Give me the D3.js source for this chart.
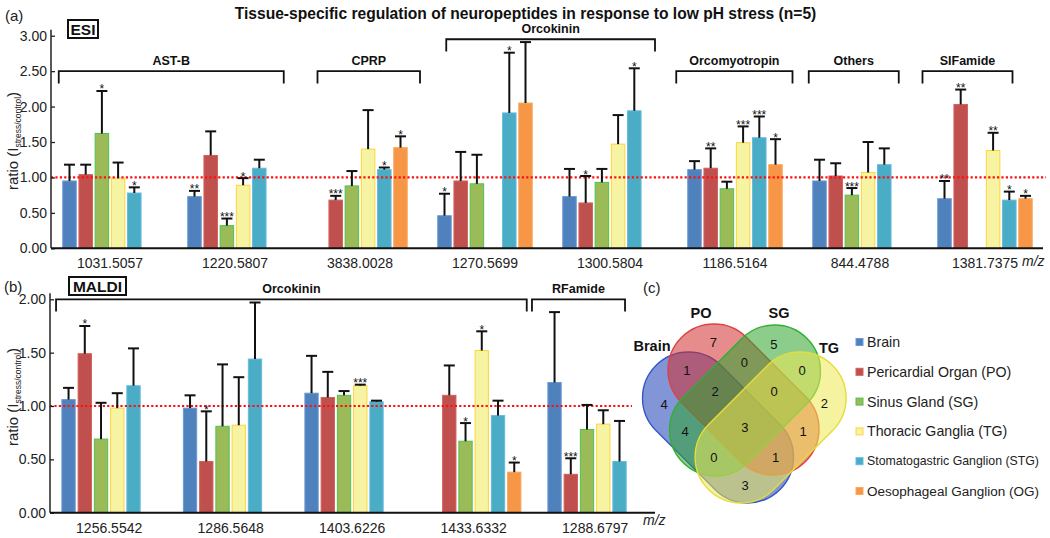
<!DOCTYPE html>
<html>
<head>
<meta charset="utf-8">
<script src="https://cdn.jsdelivr.net/npm/d3@7/dist/d3.min.js"></script>
<style>
  html,body{margin:0;padding:0;background:#fff;}
  svg{display:block;}
  text{font-family:"Liberation Sans",Arial,Helvetica,sans-serif;}
</style>
</head>
<body>
<svg id="chart" width="1050" height="538"></svg>
<script>
// ================= DATA =================
const tissues = ["Brain","Pericardial Organ (PO)","Sinus Gland (SG)","Thoracic Ganglia (TG)","Stomatogastric Ganglion (STG)","Oesophageal Ganglion (OG)"];

// ---- (a) ESI ----
const esiMz = ["1031.5057","1220.5807","3838.0028","1270.5699","1300.5804","1186.5164","844.4788","1381.7375"];
// rows = tissues, columns = m/z
const esiMean = [
  [0.95, 0.73, null, 0.46, 0.73, 1.11, 0.95, 0.70],
  [1.04, 1.31, 0.68, 0.95, 0.64, 1.13, 1.02, 2.03],
  [1.62, 0.32, 0.88, 0.91, 0.93, 0.84, 0.75, null],
  [0.99, 0.89, 1.40, null, 1.47, 1.49, 1.07, 1.38],
  [0.78, 1.13, 1.11, 1.91, 1.94, 1.56, 1.18, 0.68],
  [null, null, 1.42, 2.05, null, 1.18, null, 0.70]
];
const esiErr = [
  [0.23, 0.08, null, 0.31, 0.39, 0.12, 0.30, 0.25],
  [0.14, 0.34, 0.06, 0.41, 0.38, 0.28, 0.18, 0.21],
  [0.60, 0.10, 0.21, 0.41, 0.19, 0.10, 0.10, null],
  [0.22, 0.10, 0.55, null, 0.41, 0.23, 0.43, 0.25],
  [0.08, 0.12, 0.03, 0.85, 0.60, 0.30, 0.23, 0.12],
  [null, null, 0.16, 0.86, null, 0.36, null, 0.04]
];
const esiSig = [
  ["",  "**", "",   "*", "",  "",    "",    "**"],
  ["",  "",   "***","",  "*", "**",  "",    "**"],
  ["*", "***","",   "",  "",  "",    "***", ""],
  ["",  "*",  "",   "",  "",  "***", "",    "**"],
  ["*", "",   "*",  "*", "*", "***", "",    "*"],
  ["",  "",   "*",  "",  "",  "*",   "",    "*"]
];
const esiFamilies = ["AST-B","CPRP","Orcokinin","Orcomyotropin","Others","SIFamide"];

// ---- (b) MALDI ----
const maldiMz = ["1256.5542","1286.5648","1403.6226","1433.6332","1288.6797"];
const maldiMean = [
  [1.06, 0.98, 1.12, null, 1.22],
  [1.49, 0.48, 1.08, 1.10, 0.36],
  [0.69, 0.81, 1.10, 0.67, 0.78],
  [0.98, 0.82, 1.19, 1.52, 0.83],
  [1.19, 1.44, 1.04, 0.91, 0.48],
  [null, null, null, 0.38, null]
];
const maldiErr = [
  [0.11, 0.12, 0.35, null, 0.66],
  [0.26, 0.47, 0.24, 0.28, 0.15],
  [0.34, 0.58, 0.04, 0.17, 0.23],
  [0.14, 0.45, 0.01, 0.18, 0.13],
  [0.35, 0.53, 0.01, 0.14, 0.38],
  [null, null, null, 0.09, null]
];
const maldiSig = [
  ["",  "",  "",    "",  ""],
  ["*", "*", "",    "",  "***"],
  ["",  "",  "",    "*", ""],
  ["",  "",  "***", "*", ""],
  ["",  "",  "",    "",  ""],
  ["",  "",  "",    "*", ""]
];
const maldiFamilies = ["Orcokinin","RFamide"];

const yTicksA = [0, 0.5, 1, 1.5, 2, 2.5, 3];
const yTicksB = [0, 0.5, 1, 1.5, 2];
const referenceRatio = 1;

// ---- (c) Venn ----
const vennSets = ["Brain","PO","SG","TG"];
const vennRegionSets = [[0],[1],[2],[3],[0,1],[0,2],[0,3],[1,2],[1,3],[2,3],[0,1,2],[0,1,3],[0,2,3],[1,2,3],[0,1,2,3]];
const vennCounts     = [4,  7,  5,  2,  1,    4,    3,    0,    1,    0,    2,      1,      0,      0,      3];

// ================= LAYOUT / STYLE =================
const barFill   = ["#4F81BD","#C0504D","#9BBB59","#F6F3A2","#4BACC6","#F79646"];
const barStroke = ["#6A9AD6","#D4605C","#4FC24F","#FFD43B","#62BCE0","#F9A95E"];
const vennFill   = ["#1C40B6","#D12E2E","#2EA42E","#EDE852"];
const vennStroke = ["#3557C8","#D94444","#33AE33","#E6DC3A"];

// bracket spans in group-index units, level in data units
const esiSpan  = [[0.09,1.89],[2.16,2.98],[3.19,4.86],[5.03,5.96],[6.09,6.81],[7.0,7.72]];
const esiLevel = [2.5, 2.5, 2.95, 2.5, 2.5, 2.5];
const maldiSpan  = [[0.063,3.937],[3.98,4.746]];
const maldiLevel = [2.0, 2.0];

const svg = d3.select("#chart");

// ================= PANEL DRAWER =================
function drawPanel(p){
  const g = svg.append("g");
  const {x0, x1, y} = p;
  const bw = x1.bandwidth();

  // bars
  p.mean.forEach((row, s) => {
    row.forEach((v, gi) => {
      if (v == null) return;
      const bx = x0(p.groups[gi]) + x1(s);
      g.append("rect")
        .attr("x", bx).attr("y", y(v))
        .attr("width", bw).attr("height", y(0) - y(v))
        .attr("fill", barFill[s]).attr("stroke", barStroke[s]).attr("stroke-width", 1);
    });
  });

  // reference line
  g.append("line")
    .attr("x1", p.axisLeft).attr("x2", p.refRight)
    .attr("y1", y(referenceRatio)).attr("y2", y(referenceRatio))
    .attr("stroke", "#FF1010").attr("stroke-width", 2.2).attr("stroke-dasharray", "2.2,2.2");

  // error bars + stars
  p.mean.forEach((row, s) => {
    row.forEach((v, gi) => {
      if (v == null) return;
      const cx = x0(p.groups[gi]) + x1(s) + bw / 2;
      const top = y(v + p.err[s][gi]);
      g.append("line").attr("x1", cx).attr("x2", cx).attr("y1", y(v)).attr("y2", top)
        .attr("stroke", "#111").attr("stroke-width", 2);
      g.append("line").attr("x1", cx - 5.5).attr("x2", cx + 5.5).attr("y1", top).attr("y2", top)
        .attr("stroke", "#111").attr("stroke-width", 2);
      const st = p.sig[s][gi];
      if (st) {
        g.append("text").attr("x", cx).attr("y", top + 2.5)
          .attr("text-anchor", "middle").attr("font-size", 12).attr("fill", "#111")
          .text(st);
      }
    });
  });

  // y axis
  const ya = d3.axisLeft(y).tickValues(p.yTicks).tickFormat(d3.format(".2f"))
    .tickSizeInner(-4).tickSizeOuter(0).tickPadding(4);
  const yg = g.append("g").attr("transform", `translate(${p.axisLeft},0)`).call(ya);
  yg.select(".domain").remove();
  yg.selectAll("line").attr("stroke", "#222").attr("stroke-width", 1.3);
  yg.selectAll("text").attr("font-size", 14).attr("fill", "#222")
    .style("font-family", '"Liberation Sans",Arial,sans-serif');
  g.append("line").attr("x1", p.axisLeft).attr("x2", p.axisLeft)
    .attr("y1", y(0)).attr("y2", y(p.yTicks[p.yTicks.length - 1]) - 6)
    .attr("stroke", "#222").attr("stroke-width", 1.5);

  // x axis
  g.append("line").attr("x1", p.axisLeft).attr("x2", p.axisRight)
    .attr("y1", y(0)).attr("y2", y(0)).attr("stroke", "#111").attr("stroke-width", 2);
  const xa = d3.axisBottom(x0).tickSize(0).tickPadding(p.xLabelPad);
  const xg = g.append("g").attr("transform", `translate(0,${y(0)})`).call(xa);
  xg.select(".domain").remove();
  xg.selectAll("text").attr("font-size", 14).attr("fill", "#222")
    .style("font-family", '"Liberation Sans",Arial,sans-serif');

  g.append("text").attr("x", p.mzX).attr("y", p.mzY).attr("font-size", 14)
    .attr("font-style", "italic").attr("fill", "#222").text("m/z");

  // y label
  const yl = g.append("text")
    .attr("transform", `translate(${p.yLabelX},${p.yLabelY}) rotate(-90)`)
    .attr("text-anchor", "middle").attr("font-size", 15).attr("fill", "#222");
  yl.append("tspan").text("ratio (I");
  yl.append("tspan").attr("font-size", 8.5).attr("dy", 3).text("stress/control");
  yl.append("tspan").attr("dy", -3).text(")");

  // brackets
  const xu = u => x0.range()[0] + u * x0.step();
  p.families.forEach((f, i) => {
    const xa1 = xu(p.span[i][0]), xb1 = xu(p.span[i][1]);
    const yt = y(p.level[i]), yb = yt + 12.3;
    g.append("path")
      .attr("d", `M${xa1},${yb}V${yt}H${xb1}V${yb}`)
      .attr("fill", "none").attr("stroke", "#111").attr("stroke-width", 1.8);
    g.append("text").attr("x", (xa1 + xb1) / 2).attr("y", yt - 6)
      .attr("text-anchor", "middle").attr("font-size", 12.5).attr("font-weight", "bold")
      .attr("fill", "#111").text(f);
  });
}

// ================= PANEL (a) =================
const yA = d3.scaleLinear().domain([0, 3]).range([248.3, 35.7]);
const x0A = d3.scaleBand().domain(esiMz).range([47.5, 1047.5]).paddingInner(0).paddingOuter(0);
const x1A = d3.scaleBand().domain(d3.range(tissues.length)).range([0, x0A.bandwidth()])
  .paddingInner(0.167).paddingOuter(0.941);
drawPanel({
  groups: esiMz, mean: esiMean, err: esiErr, sig: esiSig,
  x0: x0A, x1: x1A, y: yA, yTicks: yTicksA,
  axisLeft: 51, axisRight: 1043, refRight: 1046,
  xLabelPad: 9.5, mzX: 1022, mzY: 266,
  yLabelX: 18, yLabelY: 141,
  families: esiFamilies, span: esiSpan, level: esiLevel
});

// ================= PANEL (b) =================
const yB = d3.scaleLinear().domain([0, 2]).range([512.7, 299.3]);
const x0B = d3.scaleBand().domain(maldiMz).range([48.4, 655.9]).paddingInner(0).paddingOuter(0);
const x1B = d3.scaleBand().domain(d3.range(tissues.length)).range([0, x0B.bandwidth()])
  .paddingInner(0.18).paddingOuter(0.83);
drawPanel({
  groups: maldiMz, mean: maldiMean, err: maldiErr, sig: maldiSig,
  x0: x0B, x1: x1B, y: yB, yTicks: yTicksB,
  axisLeft: 50, axisRight: 655, refRight: 632,
  xLabelPad: 10, mzX: 643, mzY: 525,
  yLabelX: 18, yLabelY: 397,
  families: maldiFamilies, span: maldiSpan, level: maldiLevel
});

// ================= TITLES =================
svg.append("text").attr("x", 525.5).attr("y", 18.5).attr("text-anchor", "middle")
  .attr("font-size", 15.6).attr("font-weight", "bold").attr("fill", "#111")
  .text("Tissue-specific regulation of neuropeptides in response to low pH stress (n=5)");
[["(a)", 5, 21], ["(b)", 4, 292], ["(c)", 643, 293]].forEach(([t, x, y]) => {
  svg.append("text").attr("x", x).attr("y", y).attr("font-size", 15).attr("fill", "#222").text(t);
});
[["ESI", 68, 20, 30, 18], ["MALDI", 69, 277, 57, 18]].forEach(([t, x, y, w, h]) => {
  svg.append("rect").attr("x", x).attr("y", y).attr("width", w).attr("height", h)
    .attr("fill", "#fff").attr("stroke", "#111").attr("stroke-width", 2);
  svg.append("text").attr("x", x + w / 2).attr("y", y + h / 2 + 5.5).attr("text-anchor", "middle")
    .attr("font-size", 15.5).attr("font-weight", "bold").attr("fill", "#111").text(t);
});

// ================= VENN (c) =================
const pills = [
  {cx: 718,   cy: 427.5, a: 45},
  {cx: 743.5, cy: 399.5, a: 45},
  {cx: 745,   cy: 400.5, a: -45},
  {cx: 770.6, cy: 427.5, a: -45}
];
const pillLen = 175.4, pillW = 92;
const vg = svg.append("g");
pills.forEach((p, i) => {
  vg.append("rect")
    .attr("x", -pillLen / 2).attr("y", -pillW / 2).attr("width", pillLen).attr("height", pillW)
    .attr("rx", pillW / 2).attr("ry", pillW / 2)
    .attr("transform", `translate(${p.cx},${p.cy}) rotate(${p.a})`)
    .attr("fill", vennFill[i]).attr("fill-opacity", 0.55)
    .attr("stroke", vennStroke[i]).attr("stroke-width", 1.4);
});
function inPill(p, x, y){
  const t = p.a * Math.PI / 180;
  const dx = x - p.cx, dy = y - p.cy;
  const u = dx * Math.cos(t) + dy * Math.sin(t);
  const v = -dx * Math.sin(t) + dy * Math.cos(t);
  const h = pillLen / 2 - pillW / 2;
  const uc = Math.max(-h, Math.min(h, u));
  return (u - uc) ** 2 + v ** 2 <= (pillW / 2) ** 2;
}
// region label positions: blend of centroid and most-interior point
const X0 = 630, Y0 = 300, GW = 231, GH = 216;
const mask = new Int8Array(GW * GH);
for (let j = 0; j < GH; j++) for (let i = 0; i < GW; i++) {
  let m = 0;
  pills.forEach((p, k) => { if (inPill(p, X0 + i, Y0 + j)) m |= (1 << k); });
  mask[j * GW + i] = m;
}
function regionLabelPos(m){
  const pts = [], bnd = [];
  let sx = 0, sy = 0;
  for (let j = 1; j < GH - 1; j++) for (let i = 1; i < GW - 1; i++) {
    const idx = j * GW + i;
    if (mask[idx] !== m) continue;
    pts.push([i, j]); sx += i; sy += j;
    if (mask[idx - 1] !== m || mask[idx + 1] !== m || mask[idx - GW] !== m || mask[idx + GW] !== m) bnd.push([i, j]);
  }
  if (!pts.length) return null;
  let best = null, bd = -1;
  for (let q = 0; q < pts.length; q += 2) {
    const [i, j] = pts[q];
    let md = Infinity;
    for (const [bi, bj] of bnd) { const d = (bi - i) ** 2 + (bj - j) ** 2; if (d < md) md = d; }
    if (md > bd) { bd = md; best = [i, j]; }
  }
  const cx = sx / pts.length, cy = sy / pts.length;
  return [X0 + 0.5 * (cx + best[0]), Y0 + 0.5 * (cy + best[1])];
}
vennRegionSets.forEach((sets, i) => {
  const m = sets.reduce((a, s) => a | (1 << s), 0);
  const pos = regionLabelPos(m);
  if (!pos) return;
  vg.append("text").attr("x", pos[0]).attr("y", pos[1])
    .attr("text-anchor", "middle").attr("dominant-baseline", "central")
    .attr("font-size", 13).attr("fill", "#111").text(vennCounts[i]);
});
// set labels
[[652, 351], [701, 318], [779, 318], [829, 353]].forEach((pos, i) => {
  vg.append("text").attr("x", pos[0]).attr("y", pos[1]).attr("text-anchor", "middle")
    .attr("font-size", 14.5).attr("font-weight", "bold").attr("fill", "#111").text(vennSets[i]);
});

// ================= LEGEND =================
const ly = d3.scalePoint().domain(tissues).range([342, 491]);
const lg = svg.append("g");
const legendMaxW = 172;
tissues.forEach((t, i) => {
  lg.append("rect").attr("x", 856).attr("y", ly(t) - 3.5).attr("width", 7).attr("height", 7)
    .attr("fill", barFill[i]).attr("stroke", barStroke[i]).attr("stroke-width", 1);
  const tx = lg.append("text").attr("x", 867).attr("y", ly(t)).attr("dominant-baseline", "central")
    .attr("font-size", 14.2).attr("fill", "#222").text(t);
  const w = tx.node().getComputedTextLength();
  if (w > legendMaxW) tx.attr("font-size", 14.2 * legendMaxW / w);
});
</script>
</body>
</html>
